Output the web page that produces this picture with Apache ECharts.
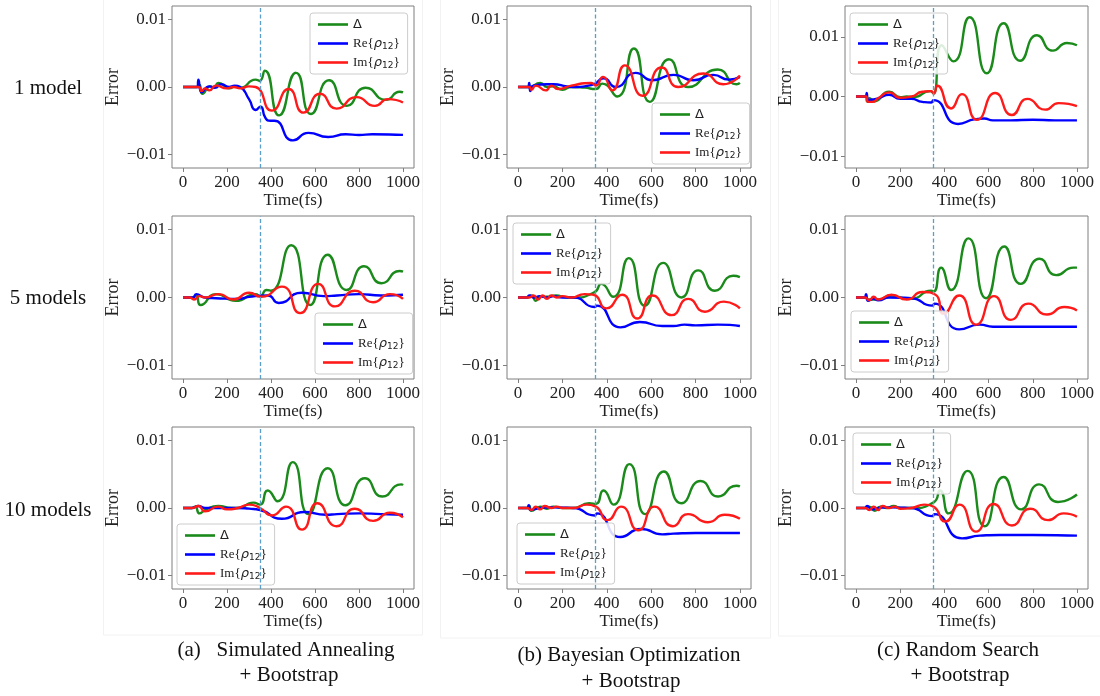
<!DOCTYPE html>
<html>
<head>
<meta charset="utf-8">
<script src="https://cdn.jsdelivr.net/npm/echarts@6/dist/echarts.min.js"></script>
<style>
  html, body { margin: 0; padding: 0; background: #ffffff; }
  #chart { width: 1100px; height: 696px; }
</style>
</head>
<body>
<div id="chart"></div>
<script>
// Prediction error of the three observables versus time.
// Each trace is a list of [time (fs), error x 1e3] pairs (turning points of the curves).

// ---- Simulated Annealing + Bootstrap ----
const SA1_delta = [[0,0],[65,0],[75,0.3],[88,-1.0],[125,0.1],[140,-0.1],[162,0.6],[210,-0.2],[240,0.1],[260,-0.1],[330,1.1],[348,0.9],[372,2.4],[437,-4.2],[514,2.1],[582,-4.0],[664,1.0],[745,-2.8],[830,-0.1],[922,-1.9],[985,-0.7],[1000,-0.8]];
const SA1_re = [[0,0],[66,0],[70,1.1],[85,-0.8],[120,0.1],[145,-0.1],[175,0.4],[210,0.0],[235,0.2],[260,0.0],[300,-1.8],[330,-3.4],[352,-2.9],[375,-4.6],[398,-5.0],[415,-5.0],[500,-7.9],[570,-6.8],[660,-7.4],[740,-7.0],[800,-7.1],[860,-7.0],[1000,-7.1]];
const SA1_im = [[0,0],[70,0],[85,-0.6],[100,-0.2],[120,-0.5],[150,0.2],[200,-0.2],[230,0.0],[260,-0.2],[300,0.1],[330,0.0],[404,-3.5],[480,-0.3],[548,-3.8],[623,-1.0],[698,-3.2],[789,-1.5],[872,-2.8],[932,-1.8],[1000,-2.3]];

const SA5_delta = [[0,0],[45,0],[60,0.3],[80,-1.1],[150,0.5],[240,-0.5],[330,0.5],[350,0.2],[380,1.1],[400,1.0],[492,7.7],[578,-1.1],[658,6.3],[744,1.1],[823,4.6],[902,2.1],[985,3.9],[1000,3.8]];
const SA5_re = [[0,0],[45,0],[60,0.5],[100,0.0],[150,-0.1],[250,-0.2],[300,0.1],[385,0.3],[435,-0.8],[540,0.7],[640,0.2],[700,0.3],[800,0.5],[900,0.3],[1000,0.4]];
const SA5_im = [[0,0],[30,0],[50,-0.3],[75,0.2],[100,0.0],[160,0.5],[230,-0.3],[300,0.7],[355,0.1],[450,1.6],[532,-2.3],[615,2.0],[691,-1.3],[781,1.0],[864,-0.7],[940,0.5],[1000,-0.2]];

const SA10_delta = [[0,0],[40,0],[55,0.2],[75,-0.8],[100,-0.3],[160,0.3],[220,0.0],[250,0.0],[320,0.8],[350,0.5],[385,2.6],[430,1.0],[499,6.8],[570,-0.9],[658,5.9],[739,0.4],[827,4.4],[906,1.7],[992,3.5],[1000,3.4]];
const SA10_re = [[0,0],[40,0],[70,0.3],[100,0.0],[250,0.0],[300,-0.1],[350,-0.3],[450,-1.6],[550,-0.6],[650,-1.0],[700,-0.9],[800,-0.8],[900,-0.9],[1000,-1.0]];
const SA10_im = [[0,0],[40,0],[70,0.3],[100,-0.5],[160,0.2],[200,-0.2],[250,0.0],[300,0.5],[350,0.0],[404,-1.1],[468,0.2],[541,-3.2],[611,0.7],[698,-2.7],[781,-0.1],[864,-1.9],[940,-0.7],[1000,-1.4]];

// ---- Bayesian Optimization + Bootstrap ----
const BO1_delta = [[0,0],[50,0],[100,0.6],[130,0.0],[160,0.1],[200,-0.4],[240,0.0],[300,-0.1],[350,-0.3],[380,0.5],[447,-1.4],[522,5.7],[594,-2.2],[681,4.1],[767,0.0],[900,2.6],[985,0.4],[1000,0.6]];
const BO1_re = [[0,0],[45,0],[50,0.6],[55,-0.6],[70,0.2],[130,0.4],[160,0.4],[220,0.1],[260,0.0],[340,0.4],[385,1.3],[440,0.0],[530,2.1],[605,1.0],[700,1.8],[790,1.0],[880,1.8],[950,1.1],[1000,1.5]];
const BO1_im = [[0,0],[50,0],[60,-0.4],[80,0.2],[125,-0.5],[150,0.2],[180,-0.3],[240,0.2],[330,0.6],[350,0.2],[383,1.5],[425,-0.5],[481,3.2],[561,-1.3],[647,2.9],[722,0.0],[835,2.0],[925,0.4],[1000,1.7]];

const BO5_delta = [[0,0],[40,0],[60,0.3],[80,-0.5],[100,0.2],[130,0.1],[170,0.3],[220,0.0],[250,0.0],[345,0.8],[375,2.0],[429,0.1],[499,5.8],[571,-1.2],[654,5.1],[737,0.0],[812,4.0],[887,1.0],[970,3.2],[1000,3.0]];
const BO5_re = [[0,0],[40,0],[50,0.3],[70,0.0],[100,0.2],[130,0.0],[160,0.2],[200,0.0],[250,0.0],[345,-1.4],[355,-1.2],[462,-4.4],[549,-3.6],[650,-4.2],[700,-4.2],[750,-4.0],[800,-4.1],[900,-4.0],[1000,-4.2]];
const BO5_im = [[0,0],[50,0],[70,0.3],[90,-0.3],[110,0.3],[130,-0.2],[150,0.3],[175,0.0],[200,0.2],[240,0.0],[300,0.5],[340,0.4],[398,-1.6],[469,0.4],[537,-3.1],[606,0.3],[692,-2.6],[767,-0.2],[842,-2.1],[928,-0.6],[1000,-1.6]];

const BO10_delta = [[0,0],[40,0],[50,0.3],[60,-0.4],[100,0.2],[130,-0.1],[160,0.2],[200,0.0],[250,0.0],[320,0.7],[350,0.6],[385,2.6],[430,0.5],[502,6.5],[573,-0.9],[657,5.4],[736,0.7],[823,4.0],[902,1.7],[985,3.3],[1000,3.2]];
const BO10_re = [[0,0],[40,0],[48,0.4],[55,-0.3],[100,0.0],[150,0.1],[250,0.0],[345,-1.1],[355,-0.8],[461,-4.3],[554,-3.1],[650,-3.9],[700,-3.8],[800,-3.7],[1000,-3.7]];
const BO10_im = [[0,0],[40,0],[60,-0.3],[80,0.2],[100,-0.2],[120,0.3],[150,0.0],[175,0.2],[200,0.0],[250,0.0],[310,0.5],[350,0.2],[403,-1.8],[464,0.2],[542,-3.3],[615,0.2],[698,-2.7],[766,-0.9],[856,-2.1],[932,-1.0],[1000,-1.6]];

// ---- Random Search + Bootstrap ----
const RS1_delta = [[0,0],[45,0],[50,-0.8],[60,-0.3],[80,-0.8],[150,0.8],[200,-0.1],[230,0.0],[260,-0.1],[335,0.9],[350,0.5],[388,8.6],[441,5.9],[514,13.3],[592,3.9],[668,12.3],[743,6.0],[819,10.3],[891,7.7],[955,9.0],[1000,8.6]];
const RS1_re = [[0,0],[45,0],[48,0.6],[55,-0.6],[75,-0.5],[100,-0.3],[150,0.3],[200,-0.4],[250,-0.4],[300,-0.9],[340,-1.0],[350,-0.6],[462,-4.6],[540,-3.8],[580,-3.7],[620,-4.0],[700,-4.0],[800,-3.9],[900,-4.0],[1000,-4.0]];
const RS1_im = [[0,0],[45,0],[55,-0.9],[75,-0.9],[100,-0.3],[150,0.7],[200,-0.2],[250,0.0],[300,0.8],[340,0.9],[352,0.5],[368,1.8],[430,-2.0],[479,0.4],[547,-3.9],[630,0.6],[705,-3.1],[776,-0.4],[857,-2.2],[917,-1.1],[1000,-1.6]];

const RS5_delta = [[0,0],[40,0],[55,-0.3],[100,-0.3],[160,0.3],[200,0.0],[250,-0.2],[340,1.0],[352,0.9],[385,4.4],[430,1.1],[509,8.7],[589,-0.1],[671,7.5],[746,2.0],[831,5.7],[906,3.3],[985,4.4],[1000,4.4]];
const RS5_re = [[0,0],[40,0],[45,0.5],[55,-0.5],[80,-0.2],[100,-0.4],[150,0.0],[250,-0.1],[345,-1.2],[355,-0.9],[467,-4.7],[560,-4.0],[620,-4.3],[700,-4.3],[1000,-4.3]];
const RS5_im = [[0,0],[40,0],[60,-0.4],[80,0.1],[100,-0.3],[160,0.4],[230,-0.3],[300,0.8],[360,0.4],[396,-2.4],[467,0.3],[544,-4.0],[625,0.2],[701,-3.3],[781,-0.9],[864,-2.5],[943,-1.4],[1000,-1.9]];

const RS10_delta = [[0,0],[40,0],[60,0.2],[85,-0.4],[110,0.2],[140,0.0],[170,0.3],[200,0.0],[250,0.0],[350,0.8],[380,2.6],[419,-0.8],[505,5.5],[582,-2.7],[668,4.6],[748,-0.2],[829,3.5],[914,0.9],[1000,2.0]];
const RS10_re = [[0,0],[40,0],[50,0.3],[70,-0.2],[100,0.0],[150,0.1],[250,0.0],[345,-1.2],[355,-0.9],[480,-4.5],[560,-4.1],[650,-4.0],[800,-4.0],[1000,-4.1]];
const RS10_im = [[0,0],[40,0],[60,-0.3],[80,0.2],[100,-0.3],[120,0.3],[150,0.0],[175,0.2],[200,-0.1],[250,0.0],[310,0.5],[350,0.2],[404,-2.0],[468,0.5],[543,-3.5],[623,0.6],[706,-2.6],[789,-0.1],[869,-1.8],[940,-0.8],[1000,-1.3]];

// Tick labels and text
const xTicks = [0, 200, 400, 600, 800, 1000];
const yTicks = [-10, 0, 10];
const seriesNames = ['Δ', 'Re{ρ12}', 'Im{ρ12}'];
const rowLabels = ['1 model', '5 models', '10 models'];
const captions = [
  ['(a)   Simulated Annealing', '+ Bootstrap'],
  ['(b) Bayesian Optimization', '+ Bootstrap'],
  ['(c) Random Search', '+ Bootstrap']
];
const cutoffTime = 350;

// ---- layout ----
const colBox = [[172, 242], [507, 244], [845, 243]];
const rowBox = [[6, 162], [216, 163], [427, 162]];
const SERIF = '"Liberation Serif", "DejaVu Serif", serif';
const SANS = '"DejaVu Sans", sans-serif';
const COLORS = ['#1a8a1a', '#0000ff', '#ff1a1a'];

// panels listed row by row; legend box at [left, top]
const panels = [
  { r: 0, c: 0, data: [SA1_delta, SA1_re, SA1_im], yMax: 12, legend: [310, 13] },
  { r: 0, c: 1, data: [BO1_delta, BO1_re, BO1_im], yMax: 12, legend: [652, 103] },
  { r: 0, c: 2, data: [RS1_delta, RS1_re, RS1_im], yMax: 15.2, legend: [850, 13] },
  { r: 1, c: 0, data: [SA5_delta, SA5_re, SA5_im], yMax: 12, legend: [315, 313] },
  { r: 1, c: 1, data: [BO5_delta, BO5_re, BO5_im], yMax: 12, legend: [513, 223] },
  { r: 1, c: 2, data: [RS5_delta, RS5_re, RS5_im], yMax: 12, legend: [851, 311] },
  { r: 2, c: 0, data: [SA10_delta, SA10_re, SA10_im], yMax: 12, legend: [177, 524] },
  { r: 2, c: 1, data: [BO10_delta, BO10_re, BO10_im], yMax: 12, legend: [517, 523] },
  { r: 2, c: 2, data: [RS10_delta, RS10_re, RS10_im], yMax: 12, legend: [853, 433] }
];

const grids = [], xAxes = [], yAxes = [], series = [], legends = [];

const yFmt = v => (v / 1000).toFixed(2).replace('-', '\u2212');
const xFmt = v => String(v);

panels.forEach((p, i) => {
  const [left, width] = colBox[p.c];
  const [top, height] = rowBox[p.r];
  grids.push({
    left: left, top: top, width: width, height: height,
    show: true, borderColor: '#7f7f7f', borderWidth: 1, backgroundColor: 'transparent'
  });
  xAxes.push({
    type: 'value', gridIndex: i, min: -50, max: 1050, position: 'bottom',
    axisLine: { show: false, onZero: false },
    axisTick: { show: true, customValues: xTicks, length: 4, lineStyle: { color: '#7f7f7f' } },
    axisLabel: { customValues: xTicks, margin: 6, fontFamily: SERIF, fontSize: 17, color: '#222', formatter: xFmt },
    splitLine: { show: false },
    name: 'Time(fs)', nameLocation: 'middle', nameGap: 22,
    nameTextStyle: { fontFamily: SERIF, fontSize: 17, color: '#222' }
  });
  yAxes.push({
    type: 'value', gridIndex: i, min: -12, max: p.yMax, position: 'left',
    axisLine: { show: false, onZero: false },
    axisTick: { show: true, customValues: yTicks, length: 4, lineStyle: { color: '#7f7f7f' } },
    axisLabel: { customValues: yTicks, margin: 6, fontFamily: SERIF, fontSize: 17, color: '#222', formatter: yFmt },
    splitLine: { show: false },
    name: 'Error', nameLocation: 'middle', nameGap: 46, nameRotate: 90,
    nameTextStyle: { fontFamily: SERIF, fontSize: 18, color: '#222' }
  });
  p.data.forEach((d, k) => {
    const s = {
      type: 'line', name: seriesNames[k], xAxisIndex: i, yAxisIndex: i,
      data: d, showSymbol: false, symbol: 'none', smooth: 0.6,
      lineStyle: { color: COLORS[k], width: 2.4 }, itemStyle: { color: COLORS[k] },
      animation: false, silent: true
    };
    if (k === 2) {
      s.markLine = {
        silent: true, symbol: ['none', 'none'], label: { show: false },
        lineStyle: { color: '#5a9ec9', type: [4, 2.5], width: 1.3 },
        data: [{ xAxis: cutoffTime }]
      };
    }
    series.push(s);
  });
  legends.push({
    left: p.legend[0], top: p.legend[1], orient: 'vertical',
    data: seriesNames.map(n => ({ name: n, icon: 'rect' })),
    itemWidth: 30, itemHeight: 2.6, itemGap: 4,
    padding: [4, 8, 4, 8],
    backgroundColor: 'rgba(255,255,255,0.85)', borderColor: '#cccccc', borderWidth: 1, borderRadius: 3,
    selectedMode: false,
    formatter: name => {
      if (name === 'Δ') return '{d|Δ}';
      const head = name.slice(0, 2);
      return head + '{{r|ρ}{s|12}}';
    },
    textStyle: {
      fontFamily: SERIF, fontSize: 13, color: '#222', lineHeight: 15,
      rich: {
        d: { fontFamily: SANS, fontSize: 13, color: '#222', lineHeight: 15 },
        r: { fontFamily: SANS, fontStyle: 'italic', fontSize: 13, color: '#222', lineHeight: 15 },
        s: { fontFamily: SANS, fontSize: 9, color: '#222', padding: [6, 0, 0, 0] }
      }
    }
  });
});

// faint outlines around each column of panels, row labels and captions
const graphics = [
  { type: 'rect', shape: { x: 103.5, y: -1, width: 319, height: 636 }, style: { fill: 'none', stroke: '#f2f2f2', lineWidth: 1 }, silent: true },
  { type: 'rect', shape: { x: 440.5, y: -1, width: 330, height: 639 }, style: { fill: 'none', stroke: '#f2f2f2', lineWidth: 1 }, silent: true },
  { type: 'rect', shape: { x: 778.5, y: -1, width: 330, height: 637 }, style: { fill: 'none', stroke: '#f2f2f2', lineWidth: 1 }, silent: true }
];
const rowY = [88, 298, 510];
rowLabels.forEach((t, i) => {
  graphics.push({ type: 'text', x: 48, y: rowY[i], silent: true,
    style: { text: t, font: '21px ' + SERIF, fill: '#111', textAlign: 'center', textVerticalAlign: 'middle' } });
});
const capPos = [[286, 650, 289, 675], [629, 655, 631, 681], [958, 650, 960, 675]];
captions.forEach((c, i) => {
  const q = capPos[i];
  graphics.push({ type: 'text', x: q[0], y: q[1], silent: true,
    style: { text: c[0], font: '21px ' + SERIF, fill: '#111', textAlign: 'center', textVerticalAlign: 'middle' } });
  graphics.push({ type: 'text', x: q[2], y: q[3], silent: true,
    style: { text: c[1], font: '21px ' + SERIF, fill: '#111', textAlign: 'center', textVerticalAlign: 'middle' } });
});

const chart = echarts.init(document.getElementById('chart'), null, { renderer: 'canvas' });
chart.setOption({
  backgroundColor: '#ffffff',
  animation: false,
  grid: grids,
  xAxis: xAxes,
  yAxis: yAxes,
  legend: legends,
  series: series,
  graphic: graphics
});
</script>
</body>
</html>
